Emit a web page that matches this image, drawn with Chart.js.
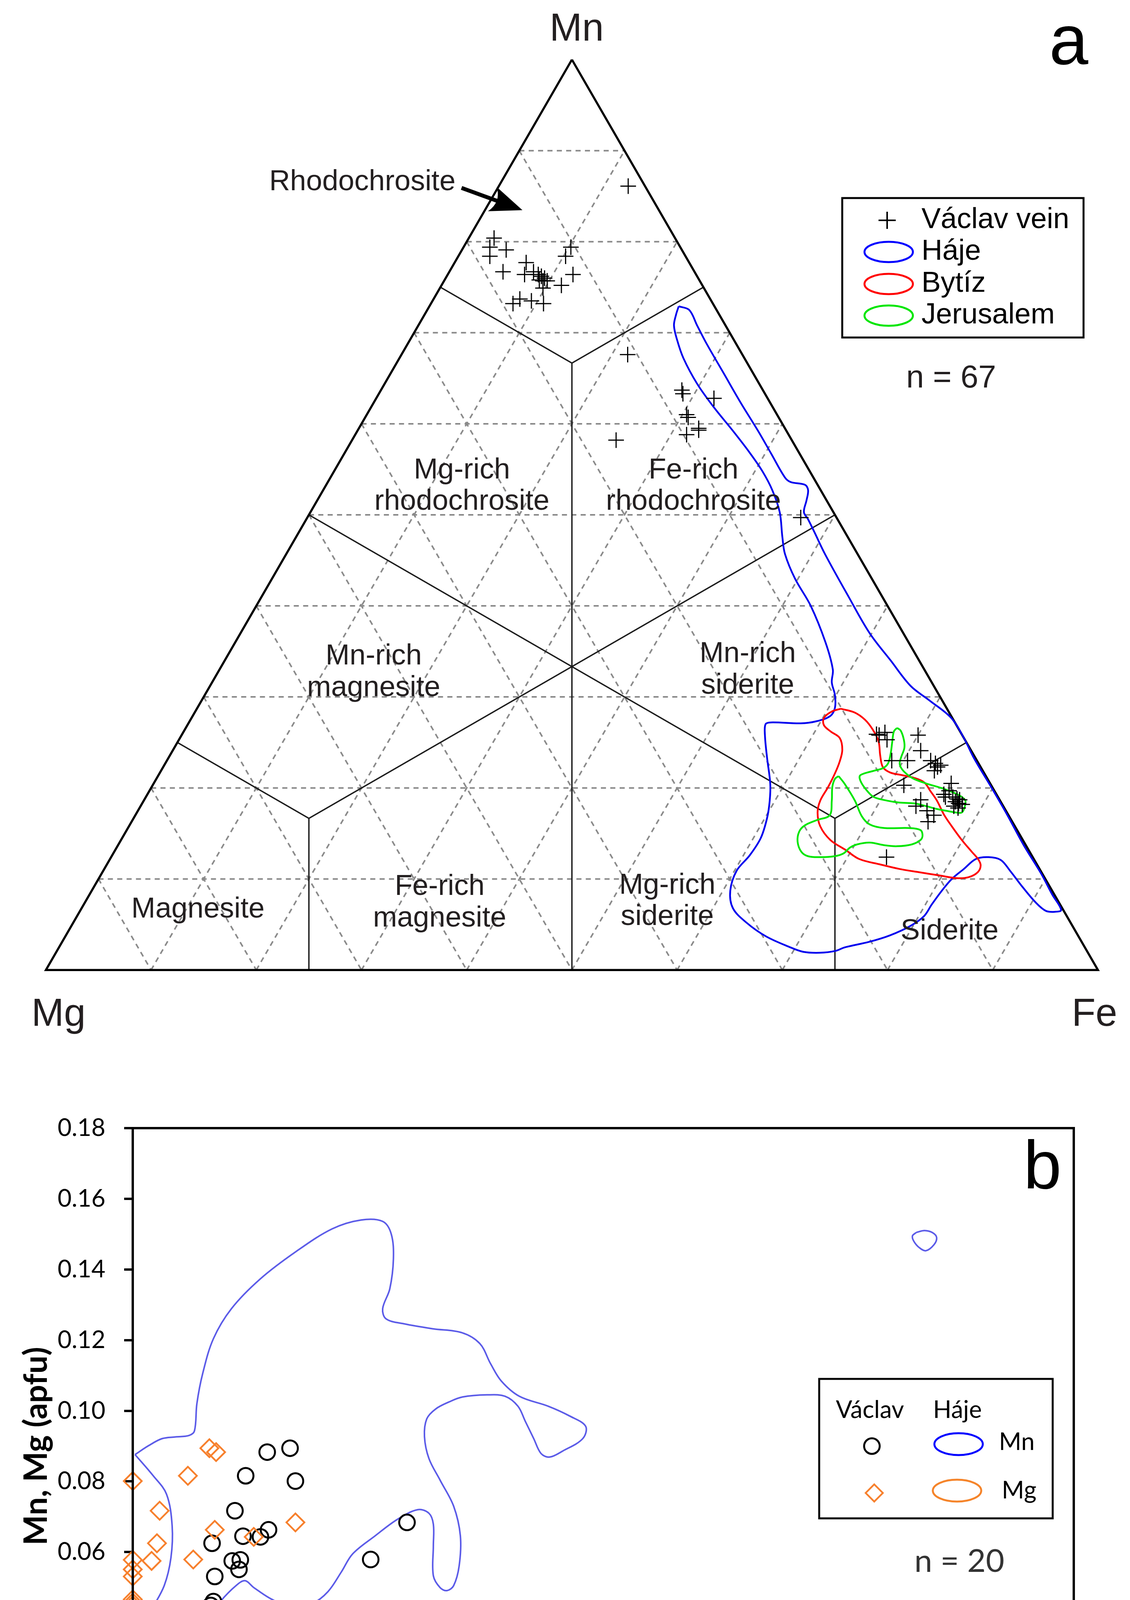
<!DOCTYPE html>
<html><head><meta charset="utf-8">
<script src="https://cdn.jsdelivr.net/npm/chart.js@4.4.1/dist/chart.umd.min.js"></script>
<style>
html,body{margin:0;padding:0;background:#fff;}
#wrap{position:relative;width:2894px;height:4805px;background:#fff;}
#c1{position:absolute;left:0;top:0;width:2894px;height:2700px;}
#c2{position:absolute;left:0;top:2700px;width:2894px;height:2105px;}
</style></head><body>
<div id="wrap"><canvas id="c1" width="2894" height="2700"></canvas><canvas id="c2" width="2894" height="2105"></canvas></div>
<script>
// ===== (a) ternary Mn–Fe–Mg : compositions as [Mn, Fe] fractions, Mg = 1 - Mn - Fe =====
const ternaryGridTicks = [0.1,0.2,0.3,0.4,0.5,0.6,0.7,0.8,0.9];
const triangleOutline = [[1,0],[0,1],[0,0],[1,0]];
const boundarySegments = [
  [[1/2,0],[1/6,2/3]], [[1/2,1/2],[1/6,1/6]], [[0,1/2],[2/3,1/6]],
  [[2/3,1/6],[3/4,0]], [[2/3,1/6],[3/4,1/4]],
  [[1/6,2/3],[1/4,3/4]], [[1/6,2/3],[0,3/4]],
  [[1/6,1/6],[1/4,0]], [[1/6,1/6],[0,1/4]]
];
const vaclavRhodochrosite = [[0.861,0.123],[0.804,0.024],[0.794,0.025],[0.791,0.042],[0.784,0.030],[0.777,0.068],[0.767,0.051],[0.764,0.073],[0.767,0.080],[0.764,0.086],[0.762,0.090],[0.760,0.094],[0.757,0.094],[0.757,0.098],[0.749,0.098],[0.752,0.114],[0.794,0.102],[0.784,0.102],[0.764,0.119],[0.737,0.082],[0.732,0.078],[0.735,0.094],[0.732,0.107],[0.758,0.090]];
const vaclavFeRhodochrosite = [[0.676,0.215],[0.637,0.286],[0.633,0.289],[0.628,0.321],[0.610,0.304],[0.607,0.307],[0.595,0.323],[0.593,0.324],[0.588,0.315],[0.582,0.251],[0.497,0.469]];
const vaclavSiderite = [[0.258,0.663],[0.261,0.667],[0.253,0.673],[0.258,0.700],[0.241,0.711],[0.230,0.689],[0.230,0.704],[0.230,0.726],[0.227,0.732],[0.225,0.738],[0.219,0.735],[0.205,0.758],[0.203,0.714],[0.197,0.760],[0.190,0.760],[0.190,0.767],[0.188,0.772],[0.187,0.775],[0.185,0.772],[0.183,0.776],[0.178,0.778],[0.180,0.773],[0.187,0.738],[0.180,0.737],[0.175,0.750],[0.170,0.759],[0.163,0.757],[0.124,0.737],[0.193,0.757],[0.182,0.780],[0.223,0.736],[0.259,0.660]];
const hajeField = [[.729,.237],[.725,.249],[.708,.265],[.688,.284],[.655,.317],[.623,.349],[.593,.380],[.567,.406],[.541,.432],[.536,.440],[.533,.455],[.527,.461],[.516,.465],[.503,.469],[.495,.477],[.481,.490],[.457,.512],[.410,.558],[.370,.598],[.340,.633],[.312,.666],[.296,.692],[.277,.722],[.255,.745],[.2325,.766],[.201,.798],[.171,.828],[.137,.861],[.106,.893],[.083,.915],[.066,.932],[.064,.927],[.065,.918],[.074,.904],[.091,.883],[.109,.862],[.121,.847],[.124,.834],[.122,.823],[.111,.817],[.100,.811],[.087,.808],[.072,.806],[.059,.805],[.048,.797],[.038,.783],[.031,.767],[.025,.747],[.021,.740],[.019,.726],[.020,.710],[.025,.695],[.037,.666],[.052,.640],[.068,.619],[.087,.607],[.109,.602],[.126,.606],[.145,.607],[.167,.602],[.186,.595],[.205,.586],[.233,.569],[.257,.555],[.270,.549],[.272,.553],[.271,.582],[.273,.595],[.279,.606],[.288,.606],[.302,.599],[.316,.589],[.330,.583],[.360,.561],[.400,.527],[.430,.497],[.457,.474],[.476,.462],[.503,.446],[.527,.427],[.548,.407],[.569,.384],[.593,.356],[.618,.326],[.644,.297],[.672,.270],[.692,.254],[.708,.243],[.720,.239]];
const bytizField = [[.287,.612],[.283,.627],[.275,.641],[.264,.654],[.251,.666],[.236,.675],[.223,.684],[.217,.694],[.214,.707],[.211,.720],[.206,.732],[.197,.742],[.186,.754],[.171,.768],[.158,.782],[.143,.799],[.130,.815],[.122,.825],[.115,.831],[.1075,.832],[.102,.826],[.101,.815],[.104,.797],[.1075,.776],[.111,.756],[.116,.735],[.122,.712],[.132,.694],[.143,.674],[.158,.657],[.173,.647],[.186,.643],[.201,.643],[.216,.642],[.229,.640],[.242,.636],[.255,.627],[.262,.615],[.269,.605],[.277,.601],[.284,.605]];
const jerusalemFieldUpper = [[.266,.676],[.263,.681],[.253,.689],[.244,.694],[.234,.696],[.227,.698],[.221,.703],[.215,.711],[.210,.720],[.205,.734],[.200,.751],[.195,.765],[.191,.774],[.186,.781],[.178,.784],[.173,.784],[.173,.779],[.175,.768],[.177,.758],[.180,.747],[.183,.734],[.184,.719],[.186,.707],[.190,.692],[.197,.682],[.206,.672],[.213,.667],[.216,.670],[.219,.678],[.222,.685],[.227,.687],[.238,.684],[.251,.679],[.262,.675]];
const jerusalemFieldLower = [[.213,.647],[.2045,.657],[.186,.676],[.169,.691],[.160,.703],[.156,.719],[.156,.742],[.154,.754],[.1485,.759],[.143,.760],[.138,.754],[.136,.741],[.137,.729],[.140,.713],[.138,.702],[.1345,.697],[.128,.694],[.125,.687],[.124,.674],[.125,.662],[.130,.653],[.141,.644],[.152,.640],[.159,.642],[.165,.651],[.170,.660],[.186,.654],[.201,.647],[.210,.645]];

// ===== (b) Mn, Mg vs Fe (apfu) =====
const xTicksB = [0,0.01,0.02,0.03,0.04,0.05,0.06,0.07];
const yTicksB = [0,0.02,0.04,0.06,0.08,0.10,0.12,0.14,0.16,0.18];
const vaclavFeForMn = [0.0100,0.0117,0.0084,0.0121,0.0076,0.0101,0.0095,0.0082,0.0059,0.0204,0.0074,0.0080,0.0079,0.0061,0.0177,0.0060,0.0058,0.0046,0.0111,0.0039];
const vaclavMn = [0.0883,0.0894,0.0816,0.0801,0.0717,0.0663,0.0643,0.0645,0.0625,0.0684,0.0575,0.0578,0.0551,0.0531,0.0579,0.0460,0.0449,0.0428,0.0397,0.0304];
const vaclavFeForMg = [0.0057,0.0062,0.0041,0.0000,0.0020,0.0121,0.0061,0.0018,0.0090,0.0014,0.0045,0.0000,0.0000,0.0000,0.0000,0.0000,0.0000,0.0025,0.0029,0.0000];
const vaclavMg = [0.0894,0.0883,0.0816,0.0801,0.0717,0.0684,0.0663,0.0625,0.0643,0.0575,0.0579,0.0578,0.0551,0.0531,0.0466,0.0457,0.0449,0.0428,0.0397,0.0304];
const hajeMnField = [[0.00017,0.0876],[0.00117,0.0901],[0.00217,0.0921],[0.00318,0.0926],[0.00418,0.0930],[0.00459,0.0943],[0.00477,0.1020],[0.0052,0.1105],[0.006,0.1204],[0.00734,0.1289],[0.00948,0.1373],[0.01216,0.1451],[0.01484,0.1515],[0.01698,0.1540],[0.01859,0.1536],[0.01923,0.1500],[0.01939,0.1430],[0.01912,0.1345],[0.01859,0.1289],[0.01885,0.1260],[0.02019,0.1246],[0.02233,0.1232],[0.02448,0.1221],[0.02582,0.1190],[0.02662,0.1133],[0.02742,0.1084],[0.02876,0.1041],[0.0309,0.1013],[0.03251,0.0985],[0.03369,0.0956],[0.03347,0.0921],[0.03198,0.0886],[0.03101,0.0869],[0.03037,0.0879],[0.02983,0.0921],[0.02919,0.0971],[0.02865,0.1013],[0.02769,0.1041],[0.02635,0.1045],[0.02453,0.1039],[0.02353,0.1025],[0.02253,0.1005],[0.02187,0.0977],[0.0217,0.0927],[0.02203,0.0865],[0.02287,0.0803],[0.02387,0.0730],[0.02437,0.0646],[0.02428,0.0561],[0.02387,0.0505],[0.02337,0.0491],[0.02287,0.0499],[0.02236,0.0533],[0.02236,0.0617],[0.02236,0.0679],[0.02203,0.0710],[0.0212,0.0720],[0.0197,0.0693],[0.01803,0.0646],[0.01636,0.0595],[0.01552,0.0544],[0.01452,0.0488],[0.01336,0.0454],[0.01219,0.0446],[0.01052,0.0463],[0.00902,0.0499],[0.00835,0.0519],[0.00768,0.0505],[0.00651,0.0460],[0.00518,0.0393],[0.00384,0.0336],[0.00284,0.0322],[0.00142,0.0314],[0.00059,0.0325],[0.0005,0.0359],[0.00134,0.0432],[0.00234,0.0505],[0.00284,0.0584],[0.00293,0.0674],[0.00251,0.0764],[0.0015,0.0817]];
const hajeMnFieldSmall = [[0.0583,0.1505],[0.0589,0.1510],[0.0595,0.1504],[0.0598,0.1490],[0.0596,0.1470],[0.0590,0.1453],[0.0585,0.1462],[0.0581,0.1480],[0.0580,0.1495]];
const hajeMgField = [[0.00047,0],[0.00038,0.0021],[0.00058,0.0043],[0.00125,0.0062],[0.00223,0.0073],[0.0037,0.0081],[0.0056,0.0084],[0.008,0.0085],[0.0125,0.0082],[0.017,0.0078],[0.0223,0.0072],[0.025,0.0066],[0.0277,0.0069],[0.0309,0.0069],[0.0328,0.0063],[0.0335,0.0052],[0.0338,0.0031],[0.0338,0]];
const hajeMgFieldSmall = [[0.0586,0.0075],[0.0592,0.0069],[0.0597,0.0055],[0.0595,0.0035],[0.0589,0.0024],[0.0583,0.0028],[0.0580,0.0045],[0.0581,0.0062]];

// ---------- helpers ----------
const SQ = Math.sqrt(3) / 2;
const toXY = p => ({ x: p[1] + p[0] / 2, y: p[0] * SQ });
const closed = a => a.concat([a[0]]);
const lineDs = (pts, color, width, extra) => Object.assign({ data: pts, showLine: true, borderColor: color, borderWidth: width, pointRadius: 0, fill: false, tension: 0 }, extra || {});

// ---------- chart (a) ----------
const dsA = [];
ternaryGridTicks.forEach(t => {
  [[[t,0],[t,1-t]], [[0,t],[1-t,t]], [[1-t,0],[0,1-t]]].forEach(seg =>
    dsA.push(lineDs(seg.map(toXY), '#8a8a8a', 4, { borderDash: [13, 11], order: 20 })));
});
boundarySegments.forEach(seg => dsA.push(lineDs(seg.map(toXY), '#1a1a1a', 3.5, { order: 15 })));
dsA.push(lineDs(triangleOutline.map(toXY), '#000', 5.5, { order: 14, borderJoinStyle: 'miter' }));
dsA.push(lineDs(closed(hajeField).map(toXY), '#0000ee', 4.5, { tension: 0.35, order: 6 }));
dsA.push(lineDs(closed(bytizField).map(toXY), '#ff0000', 4.5, { tension: 0.35, order: 5 }));
dsA.push(lineDs(closed(jerusalemFieldUpper).map(toXY), '#00e600', 4.5, { tension: 0.35, order: 4 }));
dsA.push(lineDs(closed(jerusalemFieldLower).map(toXY), '#00e600', 4.5, { tension: 0.35, order: 4 }));
dsA.push({ label: 'Václav vein', data: vaclavRhodochrosite.concat(vaclavFeRhodochrosite, vaclavSiderite).map(toXY),
  pointStyle: 'cross', pointRadius: 20, borderColor: '#000', borderWidth: 3, showLine: false, order: 1 });

function txt(ctx, s, x, y, font, color, align, base) {
  ctx.font = font; ctx.fillStyle = color || '#231f20';
  ctx.textAlign = align || 'center'; ctx.textBaseline = base || 'middle';
  ctx.fillText(s, x, y);
}
const annotA = {
  id: 'annotA',
  afterDatasetsDraw(chart) {
    const ctx = chart.ctx; ctx.save();
    const F = n => n + 'px "Liberation Sans", Arial, sans-serif';
    const dark = '#231f20';
    txt(ctx, 'Mn', 1477, 76, F(100), dark);
    txt(ctx, 'Mg', 150, 2598, F(100), dark);
    txt(ctx, 'Fe', 2803, 2598, F(100), dark);
    txt(ctx, 'a', 2737, 164, F(180), '#000', 'center', 'alphabetic');
    const regions = [
      ['Mg-rich', 1183, 1205], ['rhodochrosite', 1183, 1285],
      ['Fe-rich', 1776, 1205], ['rhodochrosite', 1776, 1285],
      ['Mn-rich', 957, 1681], ['magnesite', 957, 1762],
      ['Mn-rich', 1915, 1675], ['siderite', 1915, 1756],
      ['Magnesite', 507, 2329],
      ['Fe-rich', 1126, 2271], ['magnesite', 1126, 2352],
      ['Mg-rich', 1709, 2268], ['siderite', 1709, 2348],
      ['Siderite', 2432, 2385],
      ['Rhodochrosite', 928, 467]
    ];
    regions.forEach(r => txt(ctx, r[0], r[1], r[2], F(74), dark));
    // arrow to the rhodochrosite field
    const x0 = 1182, y0 = 481, x1 = 1338, y1 = 538;
    const ang = Math.atan2(y1 - y0, x1 - x0), L = Math.hypot(x1 - x0, y1 - y0);
    ctx.save(); ctx.translate(x1, y1); ctx.rotate(ang); ctx.fillStyle = '#000';
    ctx.fillRect(-L, -5, L - 45, 10);
    ctx.beginPath(); ctx.moveTo(0, 0); ctx.lineTo(-82, -33); ctx.quadraticCurveTo(-58, 0, -82, 33); ctx.closePath(); ctx.fill();
    ctx.restore();
    // legend
    ctx.strokeStyle = '#000'; ctx.lineWidth = 5; ctx.strokeRect(2157, 507, 618, 357);
    ctx.lineWidth = 4; ctx.beginPath();
    ctx.moveTo(2250, 564); ctx.lineTo(2294, 564); ctx.moveTo(2272, 542); ctx.lineTo(2272, 586); ctx.stroke();
    [[645, '#0000ff'], [727, '#ff0000'], [808, '#00e600']].forEach(e => {
      ctx.beginPath(); ctx.ellipse(2276, e[0], 62, 26, 0, 0, 2 * Math.PI);
      ctx.strokeStyle = e[1]; ctx.lineWidth = 5; ctx.stroke();
    });
    [['Václav vein', 564], ['Háje', 645], ['Bytíz', 727], ['Jerusalem', 808]].forEach(l =>
      txt(ctx, l[0], 2360, l[1], F(74), '#000', 'left'));
    txt(ctx, 'n = 67', 2436, 969, F(82), dark);
    ctx.restore();
  }
};
new Chart(document.getElementById('c1'), {
  type: 'scatter',
  data: { datasets: dsA },
  options: {
    responsive: false, devicePixelRatio: 1, animation: false, events: [],
    layout: { padding: 0 },
    scales: {
      x: { type: 'linear', display: false, min: -96 / 2738, max: (2894 - 96) / 2738 },
      y: { type: 'linear', display: false, min: -(2700 - 2503) / 2738, max: 2503 / 2738 }
    },
    plugins: { legend: { display: false }, tooltip: { enabled: false } }
  },
  plugins: [annotA]
});

// ---------- chart (b) ----------
const pairs = (xs, ys) => xs.map((v, i) => ({ x: v, y: ys[i] }));
const fromPairs = a => a.map(p => ({ x: p[0], y: p[1] }));
const dsB = [
  { label: 'Mg', data: pairs(vaclavFeForMg, vaclavMg), pointStyle: 'rectRot', pointRadius: 23, borderWidth: 4.5, borderColor: '#f7802d', backgroundColor: 'rgba(0,0,0,0)', showLine: false, clip: false, order: 0 },
  { label: 'Mn', data: pairs(vaclavFeForMn, vaclavMn), pointStyle: 'circle', pointRadius: 20, borderWidth: 5, borderColor: '#000', backgroundColor: 'rgba(0,0,0,0)', showLine: false, clip: false, order: 1 },
  lineDs(fromPairs(closed(hajeMnField)), '#5b5be8', 4, { tension: 0.35, order: 3 }),
  lineDs(fromPairs(closed(hajeMnFieldSmall)), '#5b5be8', 4, { tension: 0.35, order: 3 }),
  lineDs(fromPairs(hajeMgField), '#ff7a18', 4.5, { tension: 0.35, order: 3 }),
  lineDs(fromPairs(closed(hajeMgFieldSmall)), '#ff7a18', 4.5, { tension: 0.35, order: 3 })
];
const LATO = 'Lato, "Open Sans", sans-serif';
const annotB = {
  id: 'annotB',
  afterDatasetsDraw(chart) {
    const { ctx, chartArea: a } = chart; ctx.save();
    ctx.strokeStyle = '#000'; ctx.lineWidth = 6;
    ctx.strokeRect(a.left, a.top, a.right - a.left, a.bottom - a.top);
    txt(ctx, 'b', 2670, 342, '175px "Liberation Sans", Arial, sans-serif', '#000', 'center', 'alphabetic');
    // legend
    ctx.lineWidth = 5; ctx.strokeStyle = '#000'; ctx.strokeRect(2098, 830, 598, 357);
    txt(ctx, 'Václav', 2228, 910, '62px ' + LATO, '#000');
    txt(ctx, 'Háje', 2452, 910, '62px ' + LATO, '#000');
    ctx.beginPath(); ctx.arc(2233, 1002, 20, 0, 2 * Math.PI); ctx.lineWidth = 5; ctx.strokeStyle = '#000'; ctx.stroke();
    ctx.beginPath(); ctx.moveTo(2239, 1100); ctx.lineTo(2261, 1122); ctx.lineTo(2239, 1144); ctx.lineTo(2217, 1122); ctx.closePath();
    ctx.lineWidth = 4.5; ctx.strokeStyle = '#f7802d'; ctx.stroke();
    ctx.beginPath(); ctx.ellipse(2455, 997, 62, 28, 0, 0, 2 * Math.PI); ctx.lineWidth = 5; ctx.strokeStyle = '#0000ff'; ctx.stroke();
    ctx.beginPath(); ctx.ellipse(2451, 1116, 62, 28, 0, 0, 2 * Math.PI); ctx.strokeStyle = '#f5842a'; ctx.stroke();
    txt(ctx, 'Mn', 2604, 992, '62px ' + LATO, '#000');
    txt(ctx, 'Mg', 2610, 1116, '62px ' + LATO, '#000');
    txt(ctx, 'n = 20', 2457, 1298, '82px ' + LATO, '#333');
    ctx.restore();
  }
};
const axisCommon = {
  type: 'linear',
  grid: { drawOnChartArea: false, drawTicks: true, tickLength: 22, color: '#000', lineWidth: 6 },
  border: { display: true, color: '#000', width: 6 }
};
new Chart(document.getElementById('c2'), {
  type: 'scatter',
  data: { datasets: dsB },
  options: {
    responsive: false, devicePixelRatio: 1, animation: false, events: [],
    layout: { padding: { top: 188, right: 144, bottom: 0, left: 0 } },
    scales: {
      x: Object.assign({}, axisCommon, {
        min: 0, max: 0.07,
        afterBuildTicks: s => { s.ticks = xTicksB.map(v => ({ value: v })); },
        afterFit: s => { s.height = 289; },
        ticks: { callback: v => Number(v).toFixed(2), font: { family: LATO, size: 62 }, color: '#000', padding: 42, maxRotation: 0, autoSkip: false },
        title: { display: true, text: 'Fe (apfu)', font: { family: LATO, size: 82, weight: 'bold' }, color: '#000', padding: { top: 0, bottom: 7 } }
      }),
      y: Object.assign({}, axisCommon, {
        min: 0, max: 0.18,
        afterBuildTicks: s => { s.ticks = yTicksB.map(v => ({ value: v })); },
        afterFit: s => { s.width = 340; },
        ticks: { callback: v => Number(v).toFixed(2), font: { family: LATO, size: 62 }, color: '#000', padding: 48, autoSkip: false },
        title: { display: true, text: 'Mn, Mg (apfu)', font: { family: LATO, size: 82, weight: 'bold' }, color: '#000', padding: { top: 44, bottom: 0 } }
      })
    },
    plugins: { legend: { display: false }, tooltip: { enabled: false } }
  },
  plugins: [annotB]
});
</script>
</body></html>
